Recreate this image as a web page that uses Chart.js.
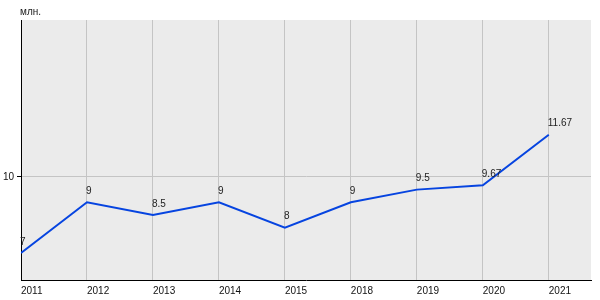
<!DOCTYPE html>
<html lang="ru">
<head>
    <meta charset="UTF-8">
    <title>Chart</title>
    <style>
        body { margin: 0; padding: 0; background: #fff; }
        #wrap { width: 600px; height: 300px; position: relative; }
    </style>
    <script src="https://cdn.jsdelivr.net/npm/chart.js"></script>
</head>
<body>
    <div id="wrap"><canvas id="chart"></canvas></div>
    <script>
        const years = ['2011', '2012', '2013', '2014', '2015', '2018', '2019', '2020', '2021'];
        const values = [7, 9, 8.5, 9, 8, 9, 9.5, 9.67, 11.67];
        const valueLabels = ['7', '9', '8.5', '9', '8', '9', '9.5', '9.67', '11.67'];
        const yTicks = [10];
        const unitLabel = 'млн.';

        const font = { family: 'Arial, "Liberation Sans", sans-serif', size: 10 };

        // plot background and text on top of the area
        const decor = {
            id: 'decor',
            beforeDraw(chart) {
                const { ctx, chartArea: a } = chart;
                ctx.save();
                ctx.fillStyle = '#ebebeb';
                ctx.fillRect(a.left, a.top, a.right - a.left, a.bottom - a.top);
                ctx.restore();
            },
            afterDatasetsDraw(chart) {
                const { ctx, chartArea: a } = chart;
                const meta = chart.getDatasetMeta(0);
                ctx.save();
                ctx.font = font.size + 'px ' + font.family;
                ctx.fillStyle = '#222';
                ctx.textAlign = 'left';
                ctx.textBaseline = 'bottom';
                meta.data.forEach((pt, i) => {
                    ctx.fillText(valueLabels[i], pt.x - 1, pt.y - 6);
                });
                ctx.fillText(unitLabel, a.left - 1, a.top - 3);
                ctx.restore();
            }
        };

        new Chart(document.getElementById('chart'), {
            type: 'line',
            data: {
                datasets: [{
                    data: values.map((v, i) => ({ x: i, y: v })),
                    borderColor: '#0644e0',
                    borderWidth: 2,
                    pointRadius: 0,
                    tension: 0,
                    fill: false
                }]
            },
            options: {
                responsive: true,
                maintainAspectRatio: false,
                animation: false,
                layout: { padding: { top: 20, right: 9, left: 0, bottom: 0 } },
                plugins: { legend: { display: false }, tooltip: { enabled: false } },
                scales: {
                    x: {
                        type: 'linear',
                        min: 0,
                        max: 8.64,
                        ticks: {
                            stepSize: 1,
                            includeBounds: false,
                            align: 'start',
                            color: '#111',
                            font: font,
                            padding: 5,
                            callback: v => years[v]
                        },
                        grid: { color: '#c4c4c4', tickLength: 0 },
                        border: { color: '#000', width: 1 },
                        afterFit: s => { s.height = 20; }
                    },
                    y: {
                        min: 5.93,
                        max: 16.2,
                        afterBuildTicks: s => { s.ticks = yTicks.map(v => ({ value: v })); },
                        ticks: { color: '#111', font: font, padding: 3 },
                        grid: { color: '#c4c4c4', tickLength: 4, tickColor: '#000' },
                        border: { color: '#000', width: 1 },
                        afterFit: s => { s.width = 21; }
                    }
                }
            },
            plugins: [decor]
        });
    </script>
</body>
</html>
